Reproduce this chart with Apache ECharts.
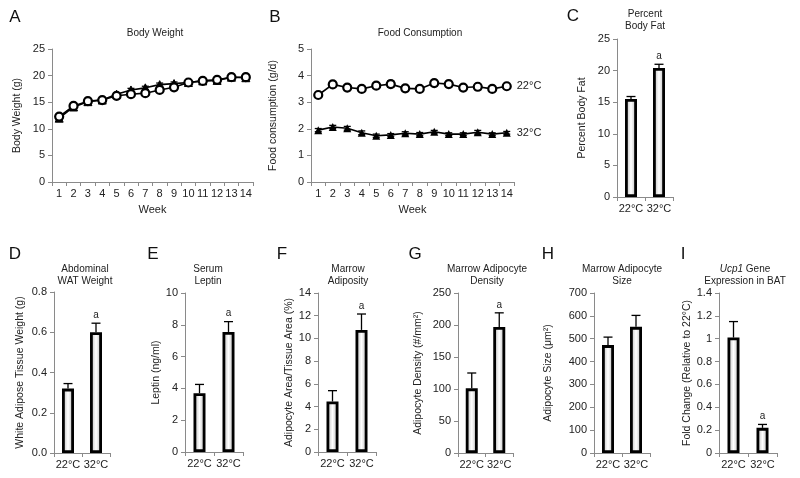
<!DOCTYPE html>
<html><head><meta charset="utf-8">
<script src="https://cdn.jsdelivr.net/npm/echarts@6/dist/echarts.min.js"></script>
<style>html,body{margin:0;padding:0;background:#fff}#c{width:800px;height:478px}</style>
</head><body><div id="c"></div>
<script>
// ---------- data ----------
const weeks = ['1','2','3','4','5','6','7','8','9','10','11','12','13','14'];
const bw22 = [12.3,14.3,15.2,15.4,16.2,16.5,16.7,17.3,17.8,18.7,19.0,19.2,19.7,19.7];
const bw32 = [12.0,14.1,15.1,15.4,16.5,17.3,17.7,18.3,18.5,18.7,19.0,19.1,19.7,19.6];
const bwErr22 = [0.3,0.3,0.3,0.3,0.3,0.3,0.3,0.3,0.3,0.3,0.3,0.3,0.3,0.3];
const bwErr32 = [0.3,0.3,0.3,0.3,0.3,0.3,0.3,0.3,0.3,0.3,0.3,0.3,0.3,0.3];
const food22 = [3.27,3.67,3.55,3.50,3.62,3.68,3.52,3.50,3.72,3.68,3.55,3.58,3.50,3.60];
const food32 = [1.95,2.07,2.02,1.85,1.74,1.77,1.83,1.80,1.89,1.80,1.80,1.87,1.80,1.85];
const foodErr22 = [0.08,0.07,0.08,0.06,0.1,0.12,0.07,0.06,0.06,0.06,0.07,0.08,0.06,0.06];
const foodErr32 = [0.06,0.06,0.07,0.07,0.06,0.05,0.06,0.06,0.05,0.05,0.05,0.07,0.05,0.05];
const temps = ['22°C','32°C'];
const fatMean = [15.5,20.4],  fatErr = [0.4,0.6],  fatSig = ['','a'];
const watMean = [0.32,0.60],  watErr = [0.025,0.045], watSig = ['','a'];
const lepMean = [3.7,7.55],   lepErr = [0.55,0.65], lepSig = ['','a'];
const adpMean = [4.45,10.75], adpErr = [0.95,1.4],  adpSig = ['','a'];
const denMean = [101,197],    denErr = [24,22],     denSig = ['','a'];
const sizMean = [472,552],    sizErr = [35,50],     sizSig = ['',''];
const ucpMean = [1.01,0.22],  ucpErr = [0.14,0.03], ucpSig = ['','a'];

// ---------- helpers ----------
const FONT = "'Liberation Sans', Arial, sans-serif";
const AX = '#8a8a8a';
function errRender(sym, sig){
  return function(params, api){
    const x = api.value(0), y = api.value(1), e = api.value(2);
    const p0 = api.coord([x, sym ? y - e : y]);
    const p1 = api.coord([x, y + e]);
    const cw = sym ? 3.5 : 4.5;
    const st = {stroke:'#000', lineWidth:1.3};
    const ch = [
      {type:'line', shape:{x1:p0[0],y1:p0[1],x2:p1[0],y2:p1[1]}, style:st},
      {type:'line', shape:{x1:p1[0]-cw,y1:p1[1],x2:p1[0]+cw,y2:p1[1]}, style:st}
    ];
    if (sym) ch.push({type:'line', shape:{x1:p0[0]-cw,y1:p0[1],x2:p0[0]+cw,y2:p0[1]}, style:st});
    if (sig && sig[params.dataIndex]) ch.push({type:'text', x:p1[0], y:p1[1]-3,
      style:{text:sig[params.dataIndex], fill:'#222', font:'10px '+FONT, align:'center', verticalAlign:'bottom'}});
    return {type:'group', children:ch};
  };
}
function errData(m, e){ return m.map((v,i)=>[i, v, e[i]]); }

const grids = [
  {left:52, top:49, width:201, height:133},
  {left:311, top:49, width:203, height:133},
  {left:617, top:39, width:56, height:158},
  {left:54, top:292, width:56, height:161},
  {left:185, top:293, width:58, height:159},
  {left:318, top:293, width:58, height:159},
  {left:458, top:293, width:55, height:160},
  {left:594, top:293, width:56, height:160},
  {left:719, top:293, width:58, height:160}
];
const xAxes = [], yAxes = [], series = [];
function xCat(gi, data, name){
  xAxes.push({type:'category', gridIndex:gi, data:data, boundaryGap:true,
    axisLine:{lineStyle:{color:AX,width:1}}, axisTick:{show:true,length:4,lineStyle:{color:AX}},
    axisLabel:{color:'#222', fontSize:11, fontFamily:FONT, margin:6, interval:0},
    name:name||'', nameLocation:'middle', nameGap:22,
    nameTextStyle:{color:'#222', fontSize:11, fontFamily:FONT}});
}
function yVal(gi, max, interval, name, gap, fmt){
  yAxes.push({type:'value', gridIndex:gi, min:0, max:max, interval:interval,
    splitLine:{show:false},
    axisLine:{show:true, lineStyle:{color:AX,width:1}}, axisTick:{show:true,length:4,lineStyle:{color:AX}},
    axisLabel:{color:'#222', fontSize:11, fontFamily:FONT, margin:7, formatter:fmt},
    name:name, nameLocation:'middle', nameGap:gap,
    nameTextStyle:{color:'#222', fontSize:10.5, fontFamily:FONT}});
}
const barFill = {type:'linear', x:0, y:0, x2:1, y2:0, colorStops:[
  {offset:0,color:'#b0b0b0'},{offset:0.5,color:'#ffffff'},{offset:1,color:'#b0b0b0'}]};
function barPanel(gi, mean, err, sig){
  const ai = xAxes.length;
  series.push({type:'bar', xAxisIndex:ai-1, yAxisIndex:ai-1, data:mean, barWidth:12,
    itemStyle:{color:barFill, borderColor:'#000', borderWidth:2.8}, silent:true, z:2});
  series.push({type:'custom', xAxisIndex:ai-1, yAxisIndex:ai-1, data:errData(mean,err),
    renderItem:errRender(false, sig), z:3, silent:true});
}

// A: body weight
xCat(0, weeks, 'Week'); yVal(0, 25, 5, 'Body Weight (g)', 29);
series.push({type:'custom', xAxisIndex:0, yAxisIndex:0, data:errData(bw32,bwErr32), renderItem:errRender(true), z:3});
series.push({type:'custom', xAxisIndex:0, yAxisIndex:0, data:errData(bw22,bwErr22), renderItem:errRender(true), z:3});
series.push({type:'line', name:'32°C', xAxisIndex:0, yAxisIndex:0, data:bw32, symbol:'triangle', symbolSize:8,
  lineStyle:{color:'#000',width:1.6}, itemStyle:{color:'#000',borderColor:'#000',borderWidth:1}, z:4});
series.push({type:'line', name:'22°C', xAxisIndex:0, yAxisIndex:0, data:bw22, symbol:'circle', symbolSize:8,
  lineStyle:{color:'#000',width:1.6}, itemStyle:{color:'#fff',borderColor:'#000',borderWidth:2.2}, z:5});
// B: food
xCat(1, weeks, 'Week'); yVal(1, 5, 1, 'Food consumption (g/d)', 32);
series.push({type:'custom', xAxisIndex:1, yAxisIndex:1, data:errData(food22,foodErr22), renderItem:errRender(true), z:3});
series.push({type:'custom', xAxisIndex:1, yAxisIndex:1, data:errData(food32,foodErr32), renderItem:errRender(true), z:3});
const endLab = {show:true, formatter:'{a}', distance:10, color:'#222', fontSize:11, fontFamily:FONT};
series.push({type:'line', name:'22°C', xAxisIndex:1, yAxisIndex:1, data:food22, symbol:'circle', symbolSize:8,
  lineStyle:{color:'#000',width:1.6}, itemStyle:{color:'#fff',borderColor:'#000',borderWidth:2.2}, endLabel:endLab, z:5});
series.push({type:'line', name:'32°C', xAxisIndex:1, yAxisIndex:1, data:food32, symbol:'triangle', symbolSize:8,
  lineStyle:{color:'#000',width:1.6}, itemStyle:{color:'#000'}, endLabel:endLab, z:5});
// C..I
xCat(2, temps); yVal(2, 25, 5, 'Percent Body Fat', 29); barPanel(2, fatMean, fatErr, fatSig);
xCat(3, temps); yVal(3, 0.8, 0.2, 'White Adipose Tissue Weight (g)', 28, v=>v.toFixed(1)); barPanel(3, watMean, watErr, watSig);
xCat(4, temps); yVal(4, 10, 2, 'Leptin (ng/ml)', 20); barPanel(4, lepMean, lepErr, lepSig);
xCat(5, temps); yVal(5, 14, 2, 'Adipocyte Area/Tissue Area (%)', 17); barPanel(5, adpMean, adpErr, adpSig);
xCat(6, temps); yVal(6, 250, 50, 'Adipocyte Density (#/mm²)', 34); barPanel(6, denMean, denErr, denSig);
xCat(7, temps); yVal(7, 700, 100, 'Adipocyte Size (μm²)', 40); barPanel(7, sizMean, sizErr, sizSig);
xCat(8, temps); yVal(8, 1.4, 0.2, 'Fold Change (Relative to 22°C)', 24); barPanel(8, ucpMean, ucpErr, ucpSig);

// titles
const tStyle = {color:'#222', fontSize:10, fontFamily:FONT, fontWeight:'normal', lineHeight:12};
const lStyle = {color:'#111', fontSize:17, fontFamily:FONT, fontWeight:'normal'};
function T(text, x, y, st){ return {text:text, left:x, top:y, textAlign:'center', padding:0, textStyle:st||tStyle}; }
const titles = [
  T('A',15,9,lStyle), T('B',275,9,lStyle), T('C',573,8,lStyle),
  T('D',15,246,lStyle), T('E',153,246,lStyle), T('F',282,246,lStyle), T('G',415,246,lStyle), T('H',548,246,lStyle), T('I',683,246,lStyle),
  T('Body Weight',155,27), T('Food Consumption',420,27), T('Percent\nBody Fat',645,8),
  T('Abdominal\nWAT Weight',85,263), T('Serum\nLeptin',208,263), T('Marrow\nAdiposity',348,263),
  T('Marrow Adipocyte\nDensity',487,263), T('Marrow Adipocyte\nSize',622,263),
  {text:'{i|Ucp1} Gene\nExpression in BAT', left:745, top:263, textAlign:'center', padding:0,
   textStyle:Object.assign({}, tStyle, {rich:{i:{fontStyle:'italic', fontSize:10, fontFamily:FONT, color:'#222'}}})}
];

const chart = echarts.init(document.getElementById('c'), null, {renderer:'canvas'});
chart.setOption({
  animation:false, backgroundColor:'#fff',
  title:titles, grid:grids, xAxis:xAxes, yAxis:yAxes, series:series
});
</script></body></html>
